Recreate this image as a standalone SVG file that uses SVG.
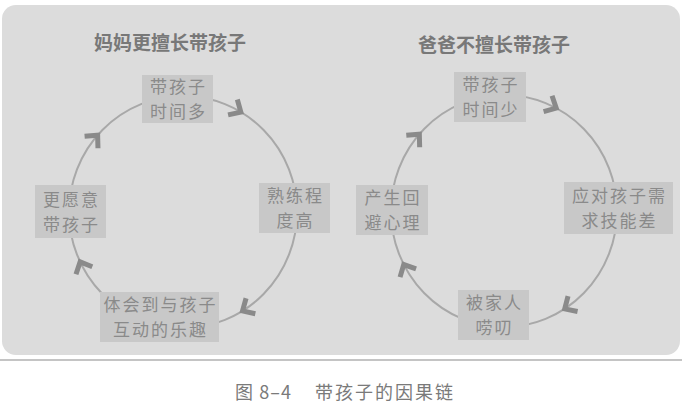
<svg xmlns="http://www.w3.org/2000/svg" width="682" height="409" viewBox="0 0 682 409">
  <style>
    .panel { fill: #dcdcdc; }
    .rule { stroke: #c4c4c4; stroke-width: 2; }
    .loop { fill: none; stroke: #a8a8a8; stroke-width: 2; }
    .box { fill: #c8c8c8; }
    .lbl { font-family: "Noto Sans CJK SC", "Noto Sans", sans-serif; font-size: 17px; letter-spacing: 2px; fill: #8a8a8a; text-anchor: middle; }
    .ttl { font-family: "Noto Sans CJK SC", "Noto Sans", sans-serif; font-size: 19px; font-weight: bold; fill: #787878; text-anchor: middle; }
    .cap { font-family: "Noto Sans CJK SC", "Noto Sans", sans-serif; font-size: 18px; fill: #7a7a7a; }
    .ah { fill: none; stroke: #8a8a8a; stroke-width: 5; stroke-linejoin: miter; stroke-miterlimit: 10; }
  </style>
  <defs>
    <!-- swept-back arrowhead, tip at origin, pointing along +x -->
    <path id="ah" class="ah" d="M-10.5,-9 L-1,0 L-10.5,9"/>
  </defs>

  <rect class="panel" x="2" y="5" width="678" height="350" rx="14"/>
  <line class="rule" x1="0" y1="360" x2="682" y2="360"/>

  <!-- titles -->
  <text class="ttl" x="170" y="50">妈妈更擅长带孩子</text>
  <text class="ttl" x="494" y="52">爸爸不擅长带孩子</text>

  <!-- connectors: the two cycles with their arrowheads -->
  <g id="connectors">
    <ellipse class="loop" cx="183" cy="212" rx="114" ry="116"/>
    <ellipse class="loop" cx="504" cy="211" rx="113" ry="116"/>
    <use href="#ah" transform="translate(241.7,112.6) rotate(31)"/>
    <use href="#ah" transform="translate(241.7,311.4) rotate(149)"/>
    <use href="#ah" transform="translate(79.7,261) rotate(245)"/>
    <use href="#ah" transform="translate(98.3,134.4) rotate(-48)"/>
    <use href="#ah" transform="translate(557.1,108.6) rotate(28)"/>
    <use href="#ah" transform="translate(563.9,309.4) rotate(148)"/>
    <use href="#ah" transform="translate(403.3,263.7) rotate(243)"/>
    <use href="#ah" transform="translate(420,133.4) rotate(-48)"/>
  </g>

  <!-- left cycle -->
  <g id="mom-time">
    <rect class="box" x="142" y="75" width="71" height="48"/>
    <text class="lbl"><tspan x="178.5" y="93">带孩子</tspan><tspan x="178.5" y="118">时间多</tspan></text>
  </g>
  <g id="mom-skill">
    <rect class="box" x="259" y="183" width="71" height="50"/>
    <text class="lbl"><tspan x="295.5" y="202">熟练程</tspan><tspan x="295.5" y="227">度高</tspan></text>
  </g>
  <g id="mom-joy">
    <rect class="box" x="100" y="292" width="119" height="50"/>
    <text class="lbl"><tspan x="160.5" y="311">体会到与孩子</tspan><tspan x="160.5" y="336">互动的乐趣</tspan></text>
  </g>
  <g id="mom-willing">
    <rect class="box" x="35" y="185" width="71" height="53"/>
    <text class="lbl"><tspan x="71.5" y="205.5">更愿意</tspan><tspan x="71.5" y="230.5">带孩子</tspan></text>
  </g>

  <!-- right cycle -->
  <g id="dad-time">
    <rect class="box" x="454" y="72" width="72" height="50"/>
    <text class="lbl"><tspan x="491" y="91">带孩子</tspan><tspan x="491" y="116">时间少</tspan></text>
  </g>
  <g id="dad-skill">
    <rect class="box" x="564" y="182" width="109" height="52"/>
    <text class="lbl"><tspan x="619.5" y="202">应对孩子需</tspan><tspan x="619.5" y="227">求技能差</tspan></text>
  </g>
  <g id="dad-nagged">
    <rect class="box" x="458" y="290" width="71" height="50"/>
    <text class="lbl"><tspan x="494.5" y="309">被家人</tspan><tspan x="494.5" y="334">唠叨</tspan></text>
  </g>
  <g id="dad-avoid">
    <rect class="box" x="356" y="185" width="72" height="50"/>
    <text class="lbl"><tspan x="393" y="204">产生回</tspan><tspan x="393" y="229">避心理</tspan></text>
  </g>

  <!-- caption -->
  <text class="cap" x="235" y="399" textLength="56">图 8–4</text>
  <text class="cap" x="315" y="399" textLength="138">带孩子的因果链</text>
</svg>
